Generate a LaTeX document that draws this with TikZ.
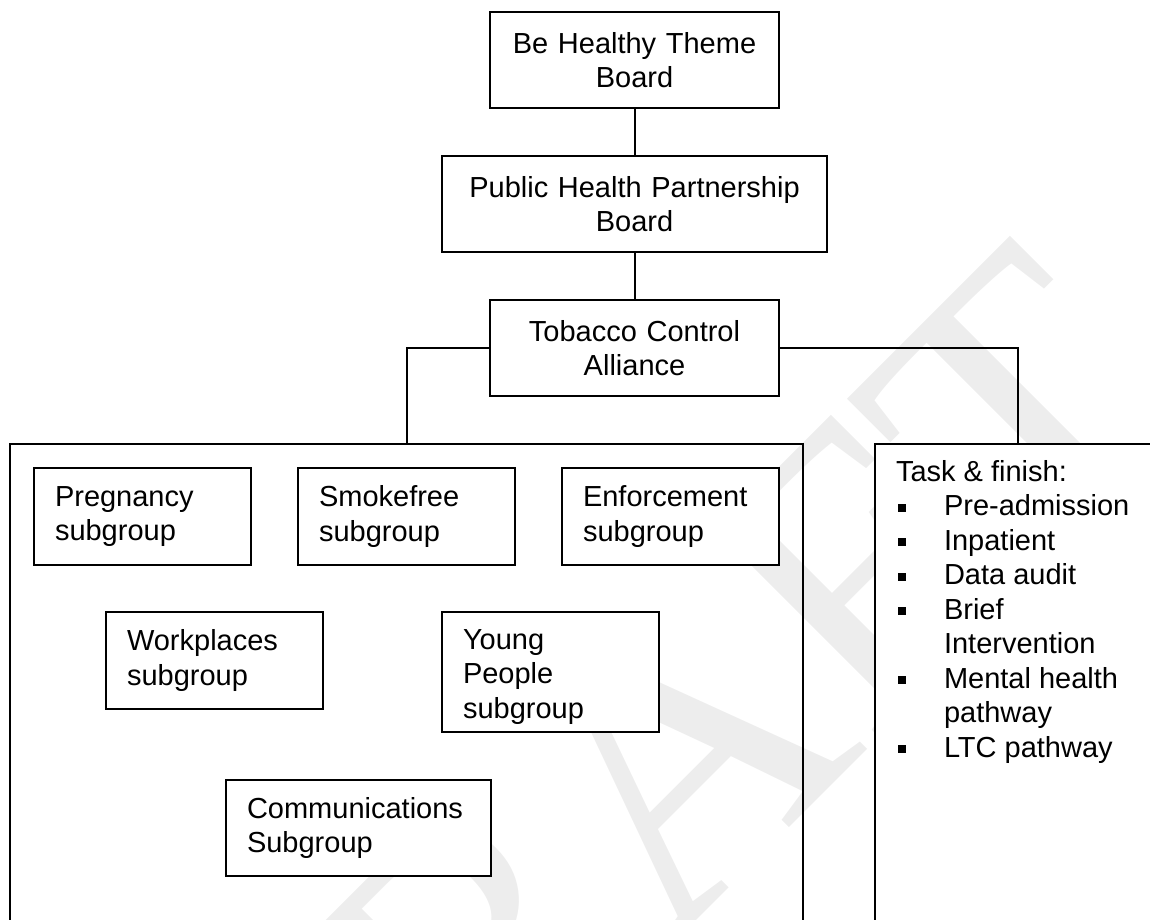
\documentclass[tikz,border=0pt]{standalone}
\usepackage{fontspec}
\setmainfont{Liberation Sans}
\newfontfamily\markfont{Liberation Serif}
\usetikzlibrary{positioning}

\newcommand{\sqbullet}{\makebox[48pt][l]{\hspace{1.7pt}\rule[4pt]{8pt}{8pt}}}

\begin{document}
\begin{tikzpicture}[x=1pt,y=-1pt,line width=2pt,
  font=\fontsize{29}{34.5}\selectfont,
  board/.style={draw,fill=white,align=center,inner sep=0pt,minimum height=96pt,anchor=north west},
  subgroup/.style={draw,fill=white,align=left,inner xsep=21pt,inner ysep=0pt,minimum height=97pt,anchor=north west},
  panel/.style={draw,inner sep=0pt,minimum height=520pt,anchor=north west},
  watermark/.style={rotate=45,text=gray!14,font=\markfont\fontsize{400}{400}\selectfont,anchor=base west,inner sep=0pt}]

 % page frame
 \useasboundingbox (0,0) rectangle (1150,920);
 \clip (0,0) rectangle (1150,920);

 % watermark behind everything
 \node[watermark] (draft) at (272,1345) {DRAFT};

 % boards
 \node[board,text width=289pt] (theme) at (489,11) {Be Healthy Theme\\Board};
 \node[board,text width=385pt] (php) at (441,155) {Public Health Partnership\\Board};
 \node[board,text width=289pt] (tca) at (489,299) {Tobacco Control\\Alliance};

 % the two panels under the alliance
 \node[panel,minimum width=793pt] (groups) at (9,443) {};
 \node[panel,fill=white,minimum width=286pt] (tasks) at (874,443) {};

 % subgroups
 \node[subgroup,text width=175pt] (preg) at (33,467) {Pregnancy\\subgroup};
 \node[subgroup,text width=175pt] (smoke) at (297,467) {Smokefree\\subgroup};
 \node[subgroup,text width=175pt] (enf) at (561,467) {Enforcement\\subgroup};
 \node[subgroup,text width=175pt] (work) at (105,611) {Workplaces\\subgroup};
 \node[subgroup,text width=175pt,minimum height=120pt,inner ysep=17pt,text depth=65pt] (young) at (441,611) {Young\\People\\subgroup};
 \node[subgroup,text width=223pt,minimum height=96pt] (comms) at (225,779) {Communications\\Subgroup};

 % connectors
 \draw (theme) -- (php);
 \draw (php) -- (tca);
 \draw (tca.west) -| (groups.north);
 \draw (tca.east) -| (tasks.north);

 % task & finish list
 \node[anchor=north west,align=left,inner xsep=21pt,inner ysep=16pt] (tasklist) at (tasks.north west)
   {Task \& finish:\\
    \sqbullet Pre-admission\\
    \sqbullet Inpatient\\
    \sqbullet Data audit\\
    \sqbullet Brief\\
    \hspace*{48pt}Intervention\\
    \sqbullet Mental health\\
    \hspace*{48pt}pathway\\
    \sqbullet LTC pathway};

\end{tikzpicture}
\end{document}
